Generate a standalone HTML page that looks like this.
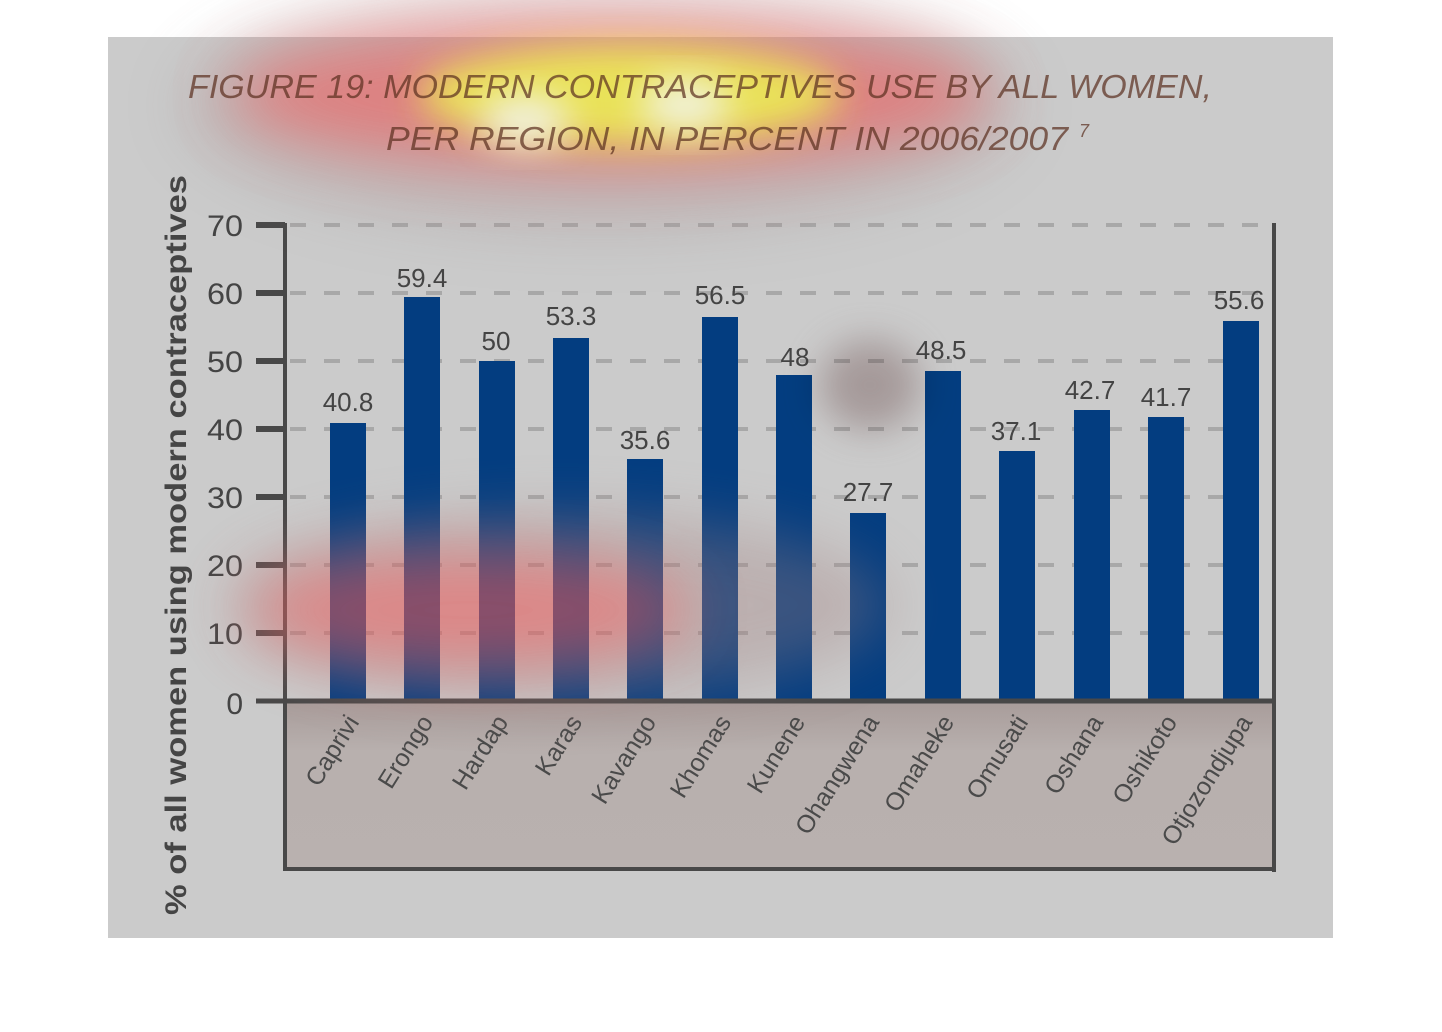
<!DOCTYPE html>
<html><head><meta charset="utf-8"><style>
html,body{margin:0;padding:0;background:#fff;}
svg{display:block;}
text{font-family:"Liberation Sans","DejaVu Sans",sans-serif;}
</style></head><body>
<svg width="1442" height="1032" viewBox="0 0 1442 1032" xmlns="http://www.w3.org/2000/svg">
<defs>
<linearGradient id="lb" x1="0" y1="0" x2="0" y2="1">
<stop offset="0" stop-color="#a89c9a"/><stop offset="0.3" stop-color="#b8b0ae"/><stop offset="1" stop-color="#b9b1af"/>
</linearGradient>
<filter id="bl" x="-50%" y="-50%" width="200%" height="200%"><feGaussianBlur stdDeviation="30"/></filter>
<filter id="bl2" x="-50%" y="-50%" width="200%" height="200%"><feGaussianBlur stdDeviation="18"/></filter>
</defs>
<rect x="108" y="37" width="1225" height="901" fill="#cbcbcb"/>
<rect x="284" y="701" width="990" height="169" fill="url(#lb)"/>
<g stroke="#a8a8a8" stroke-width="4" stroke-dasharray="16 18">
<line x1="290" y1="225" x2="1274" y2="225"/>
<line x1="290" y1="293" x2="1274" y2="293"/>
<line x1="290" y1="361" x2="1274" y2="361"/>
<line x1="290" y1="429" x2="1274" y2="429"/>
<line x1="290" y1="497" x2="1274" y2="497"/>
<line x1="290" y1="565" x2="1274" y2="565"/>
<line x1="290" y1="633" x2="1274" y2="633"/>
</g>
<g fill="#033d80">
<rect x="330" y="423" width="36" height="278"/>
<rect x="404" y="297" width="36" height="404"/>
<rect x="479" y="361" width="36" height="340"/>
<rect x="553" y="338" width="36" height="363"/>
<rect x="627" y="459" width="36" height="242"/>
<rect x="702" y="317" width="36" height="384"/>
<rect x="776" y="375" width="36" height="326"/>
<rect x="850" y="513" width="36" height="188"/>
<rect x="925" y="371" width="36" height="330"/>
<rect x="999" y="451" width="36" height="250"/>
<rect x="1074" y="410" width="36" height="291"/>
<rect x="1148" y="417" width="36" height="284"/>
<rect x="1223" y="321" width="36" height="380"/>
</g>
<g stroke="#484848" stroke-width="4" fill="none">
<line x1="285" y1="223" x2="285" y2="870"/>
<line x1="1274" y1="223" x2="1274" y2="872"/>
<line x1="283" y1="869" x2="1276" y2="869"/>
</g>
<line x1="256" y1="701" x2="1274" y2="701" stroke="#484848" stroke-width="5"/>
<g stroke="#484848" stroke-width="6">
<line x1="256" y1="225" x2="285" y2="225"/><line x1="256" y1="293" x2="285" y2="293"/>
<line x1="256" y1="361" x2="285" y2="361"/><line x1="256" y1="429" x2="285" y2="429"/>
<line x1="256" y1="497" x2="285" y2="497"/><line x1="256" y1="565" x2="285" y2="565"/>
<line x1="256" y1="633" x2="285" y2="633"/>
</g>
<g font-size="30" fill="#444" text-anchor="end">
<text x="243" y="236" textLength="36" lengthAdjust="spacingAndGlyphs">70</text>
<text x="243" y="304" textLength="36" lengthAdjust="spacingAndGlyphs">60</text>
<text x="243" y="372" textLength="36" lengthAdjust="spacingAndGlyphs">50</text>
<text x="243" y="440" textLength="36" lengthAdjust="spacingAndGlyphs">40</text>
<text x="243" y="508" textLength="36" lengthAdjust="spacingAndGlyphs">30</text>
<text x="243" y="576" textLength="36" lengthAdjust="spacingAndGlyphs">20</text>
<text x="243" y="644" textLength="36" lengthAdjust="spacingAndGlyphs">10</text>
<text x="243" y="714">0</text>
</g>
<g font-size="26" fill="#444" text-anchor="middle">
<text x="348" y="411">40.8</text><text x="422" y="287">59.4</text><text x="496" y="350">50</text>
<text x="571" y="325">53.3</text><text x="645" y="449">35.6</text><text x="720" y="304">56.5</text>
<text x="795" y="366">48</text><text x="868" y="501">27.7</text><text x="941" y="359">48.5</text>
<text x="1016" y="440">37.1</text><text x="1090" y="399">42.7</text><text x="1166" y="406">41.7</text>
<text x="1239" y="309">55.6</text>
</g>
<g font-size="25" fill="#4a4a4a" text-anchor="end">
<text transform="translate(360,722) rotate(-58)">Caprivi</text>
<text transform="translate(434,722) rotate(-58)">Erongo</text>
<text transform="translate(509,722) rotate(-58)">Hardap</text>
<text transform="translate(583,722) rotate(-58)">Karas</text>
<text transform="translate(657,722) rotate(-58)">Kavango</text>
<text transform="translate(732,722) rotate(-58)">Khomas</text>
<text transform="translate(806,722) rotate(-58)">Kunene</text>
<text transform="translate(880,722) rotate(-58)">Ohangwena</text>
<text transform="translate(955,722) rotate(-58)">Omaheke</text>
<text transform="translate(1029,722) rotate(-58)">Omusati</text>
<text transform="translate(1104,722) rotate(-58)">Oshana</text>
<text transform="translate(1178,722) rotate(-58)">Oshikoto</text>
<text transform="translate(1253,722) rotate(-58)">Otjozondjupa</text>
</g>
<text transform="translate(186,545) rotate(-90)" font-size="30" font-weight="bold" fill="#454545" text-anchor="middle" textLength="740" lengthAdjust="spacingAndGlyphs">% of all women using modern contraceptives</text>
<g style="mix-blend-mode:multiply">
<ellipse cx="870" cy="385" rx="50" ry="45" fill="#b09898" filter="url(#bl2)" opacity="0.6"/>
</g>
<g opacity="0.75">
<ellipse cx="600" cy="105" rx="420" ry="130" fill="#a09090" filter="url(#bl)" opacity="0.4"/>
<ellipse cx="610" cy="95" rx="380" ry="75" fill="#e86060" filter="url(#bl)" opacity="0.9"/>
<ellipse cx="630" cy="95" rx="210" ry="50" fill="#f4ea30" filter="url(#bl2)"/>
<ellipse cx="525" cy="120" rx="45" ry="25" fill="#ffffe8" filter="url(#bl2)"/>
<ellipse cx="685" cy="105" rx="45" ry="25" fill="#ffffe8" filter="url(#bl2)"/>
</g>
<g font-size="33" font-style="italic" fill="#5a2e1e" opacity="0.7">
<text x="188" y="98" textLength="1024" lengthAdjust="spacingAndGlyphs">FIGURE 19: MODERN CONTRACEPTIVES USE BY ALL WOMEN,</text>
<text x="386" y="150" textLength="682" lengthAdjust="spacingAndGlyphs">PER REGION, IN PERCENT IN 2006/2007</text>
<text x="1079" y="137" font-size="18">7</text>
</g>
<g opacity="0.6">
<ellipse cx="560" cy="605" rx="330" ry="90" fill="#a08080" filter="url(#bl)" opacity="0.6"/>
<ellipse cx="470" cy="610" rx="220" ry="55" fill="#e85a5a" filter="url(#bl)"/>
</g>
</svg>
</body></html>
